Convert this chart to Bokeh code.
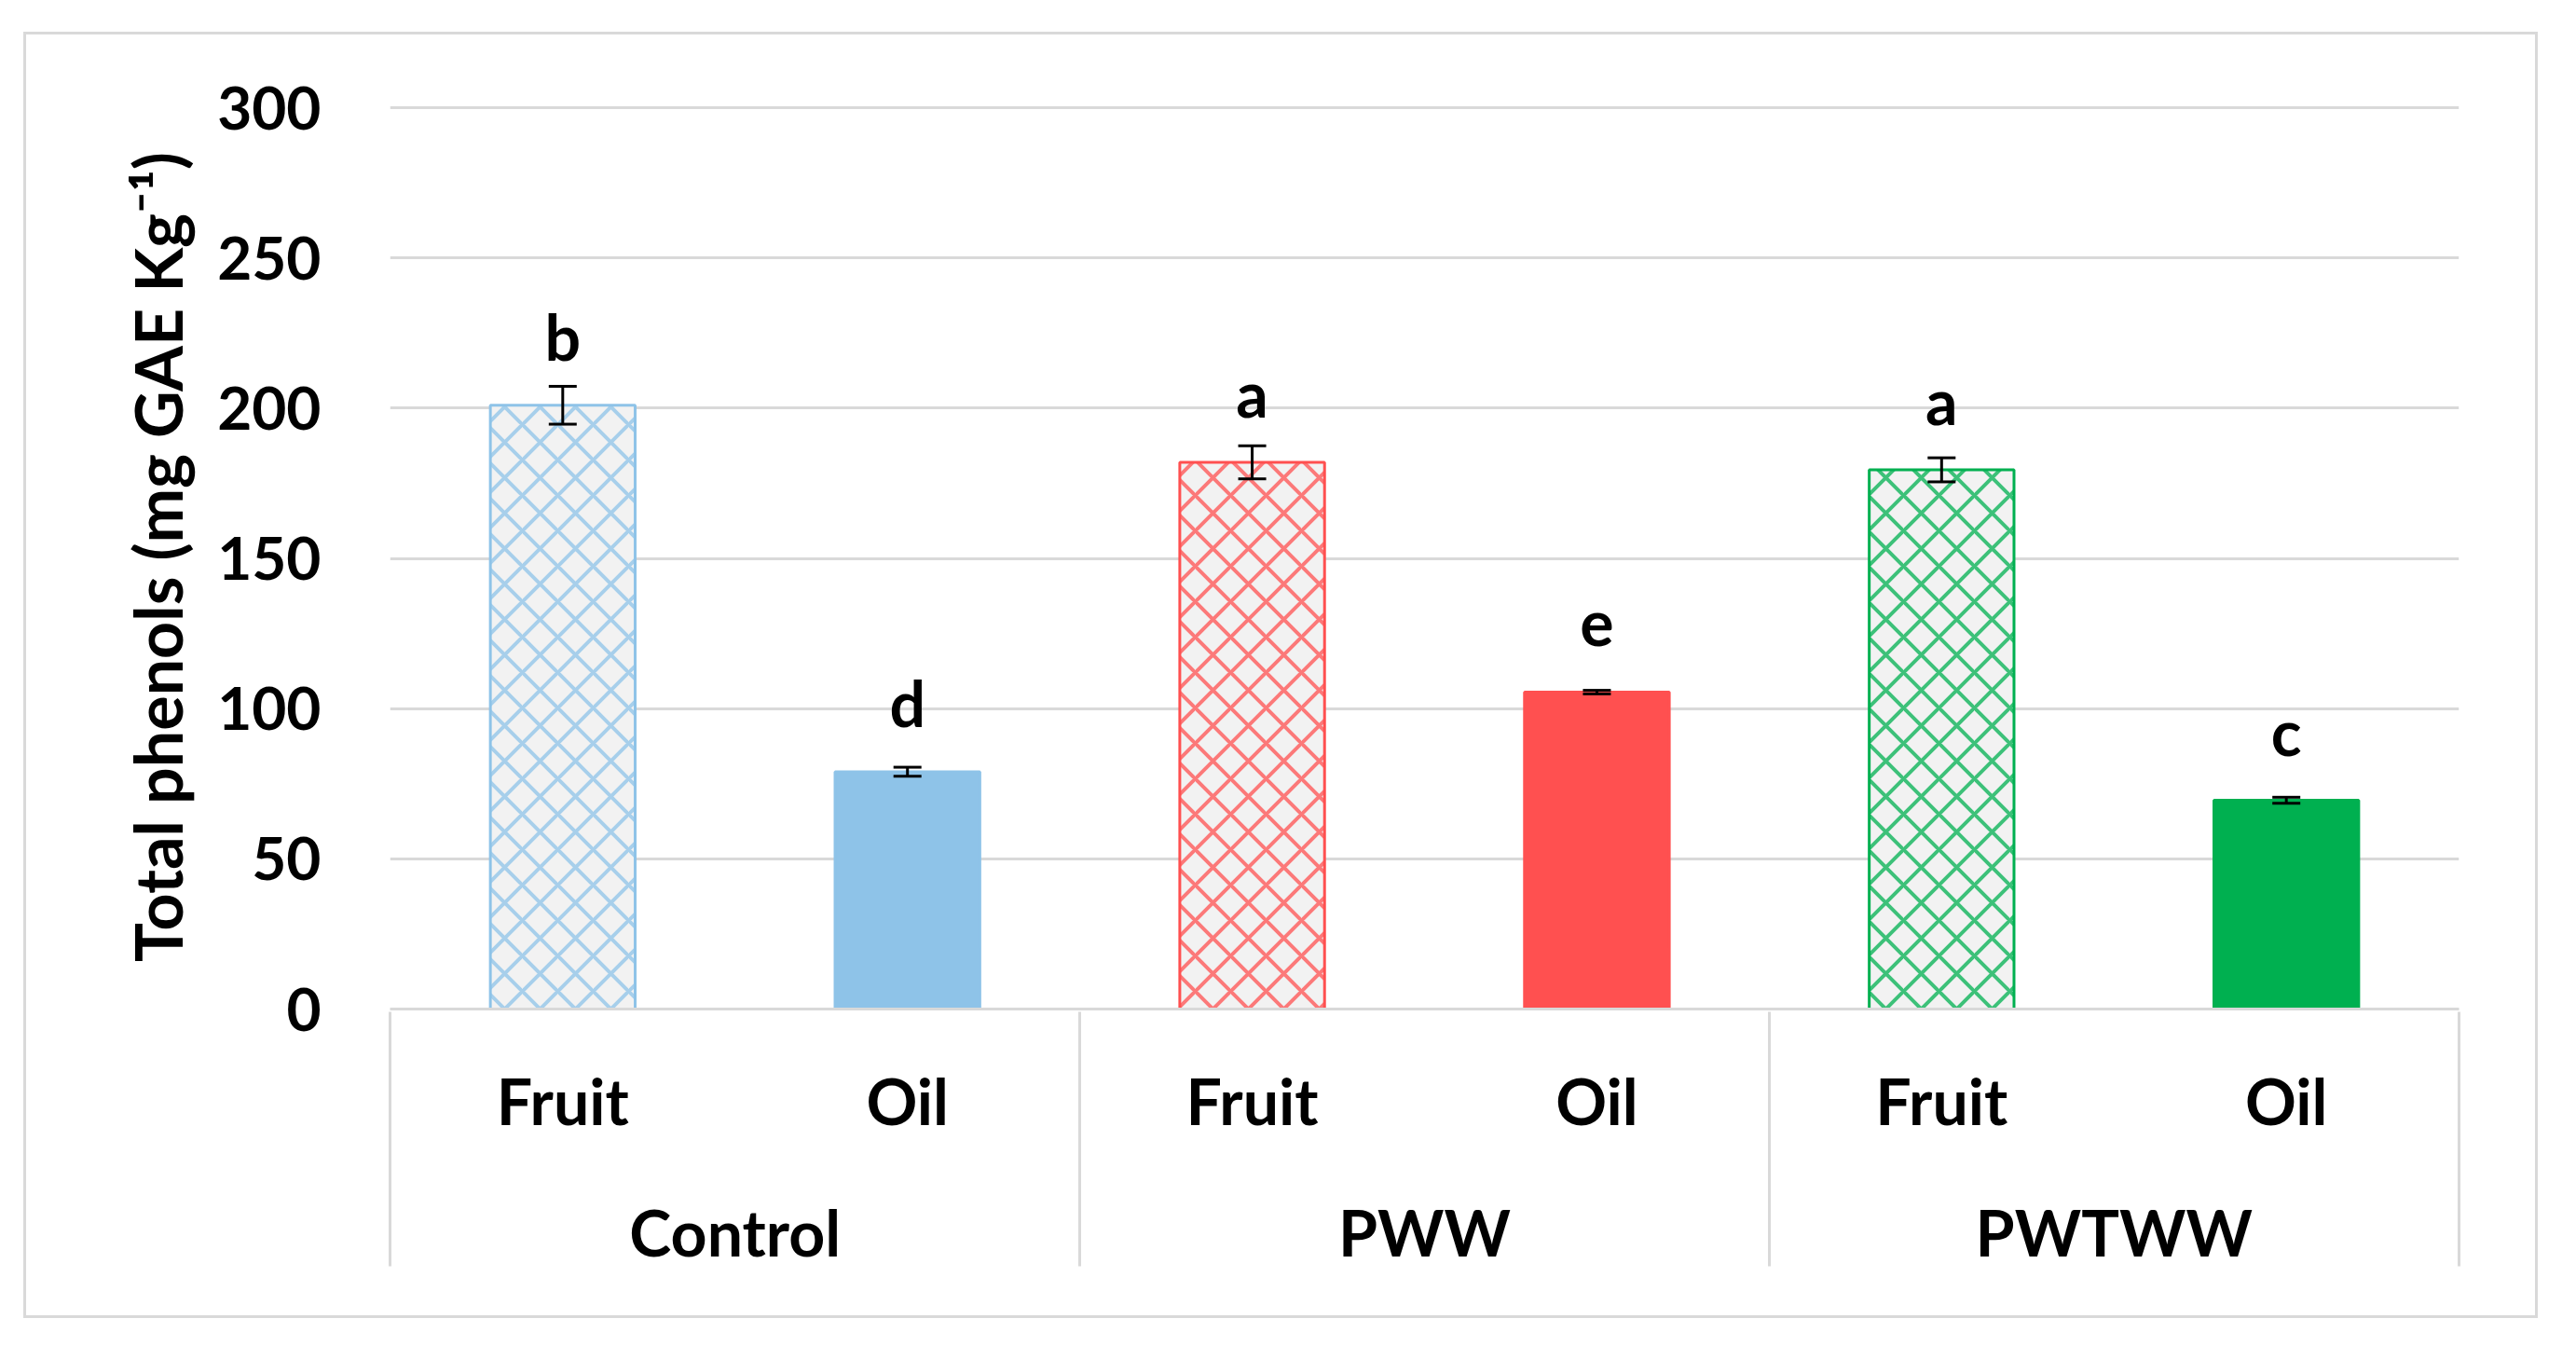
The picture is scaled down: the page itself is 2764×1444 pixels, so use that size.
from bokeh.plotting import figure
from bokeh.models import (FactorRange, Range1d, FixedTicker,
                          ColumnDataSource, Whisker, TeeHead)
from bokeh.core.properties import value
from bokeh.embed import file_html
from bokeh.resources import INLINE

# ---------------- data ----------------
groups = ["Control", "PWW", "PWTWW"]
parts = ["Fruit", "Oil"]
means = [201.0, 79.0, 182.0, 105.5, 179.5, 69.5]
errors = [6.3, 1.5, 5.5, 0.6, 4.0, 1.0]
letters = ["b", "d", "a", "e", "a", "c"]
group_colors = ["#8EC3E8", "#FF5050", "#00B050"]
y_ticks = [0, 50, 100, 150, 200, 250, 300]
y_title = "Total phenols (mg GAE Kg\u207b\u00b9)"

# ---------------- derived ----------------
factors = [(g, s) for g in groups for s in parts]
colors = [c for c in group_colors for _ in parts]
fills = ["#F2F2F2" if s == "Fruit" else c for c, (g, s) in zip(colors, factors)]
hatches = ["x" if s == "Fruit" else " " for (g, s) in factors]
LABEL_GAP = 23
src = ColumnDataSource(dict(
    x=factors, top=means,
    upper=[m + e for m, e in zip(means, errors)],
    lower=[m - e for m, e in zip(means, errors)],
    color=colors, fill=fills, hatch=hatches,
    label=letters, label_y=[m + LABEL_GAP for m in means],
))

# edge pseudo-groups (outside the visible span) so that the axis draws
# group separators at both outer edges as well
x_range = FactorRange(("_l", "_"), *factors, ("_r", "_"),
                      group_padding=0, factor_padding=0,
                      range_padding=-0.999, range_padding_units="absolute")

FONT = "Lato"
FS_TICK = "64px"
FS = "68px"
GRID = "#D9D9D9"

p = figure(width=2692, height=1374,
           x_range=x_range, y_range=Range1d(0, 301),
           output_backend="svg", toolbar_location=None,
           min_border_left=390, min_border_right=82,
           min_border_top=75, min_border_bottom=329)
p.title.visible = False
p.outline_line_color = None
p.background_fill_color = "white"
p.border_fill_color = "white"
p.styles = {"box-shadow": "0 0 0 3px #D9D9D9",
            "margin-top": "37px", "margin-left": "28px"}

p.vbar(x="x", top="top", width=0.42, source=src,
       fill_color="fill", line_color="color", line_width=3,
       hatch_pattern="hatch", hatch_color="color", hatch_scale=38,
       hatch_weight=4, hatch_alpha=0.75)

w = Whisker(base="x", upper="upper", lower="lower", source=src, level="overlay",
            line_color="black", line_width=3,
            upper_head=TeeHead(size=30, line_width=3, line_color="black"),
            lower_head=TeeHead(size=30, line_width=3, line_color="black"))
p.add_layout(w)

p.text(x="x", y="label_y", text="label", source=src,
       text_font=value(FONT), text_font_style="bold", text_font_size=FS,
       text_align="center", text_baseline="alphabetic", text_color="black")

# grid
p.xgrid.grid_line_color = None
p.ygrid.grid_line_color = GRID
p.ygrid.grid_line_width = 3
p.ygrid.ticker = FixedTicker(ticks=y_ticks)

# y axis
ya = p.yaxis[0]
ya.ticker = FixedTicker(ticks=y_ticks)
ya.axis_line_color = None
ya.major_tick_line_color = None
ya.minor_tick_line_color = None
ya.major_label_text_font = FONT
ya.major_label_text_font_style = "bold"
ya.major_label_text_font_size = FS_TICK
ya.major_label_text_color = "black"
ya.major_label_standoff = 68
ya.axis_label = y_title
ya.axis_label_text_font = FONT
ya.axis_label_text_font_style = "bold"
ya.axis_label_text_font_size = "70px"
ya.axis_label_text_color = "black"
ya.axis_label_standoff = 19

# x axis (categorical, two levels)
xa = p.xaxis[0]
xa.axis_line_color = GRID
xa.axis_line_width = 3
xa.major_tick_line_color = None
xa.major_tick_out = 0
xa.major_tick_in = 0
xa.major_label_standoff = 57
xa.major_label_text_font = FONT
xa.major_label_text_font_style = "bold"
xa.major_label_text_font_size = FS
xa.major_label_text_color = "black"
xa.group_text_font = FONT
xa.group_text_font_style = "bold"
xa.group_text_font_size = FS
xa.group_text_color = "black"
xa.separator_line_color = GRID
xa.separator_line_width = 3

open("out.html", "w").write(file_html(p, INLINE))
